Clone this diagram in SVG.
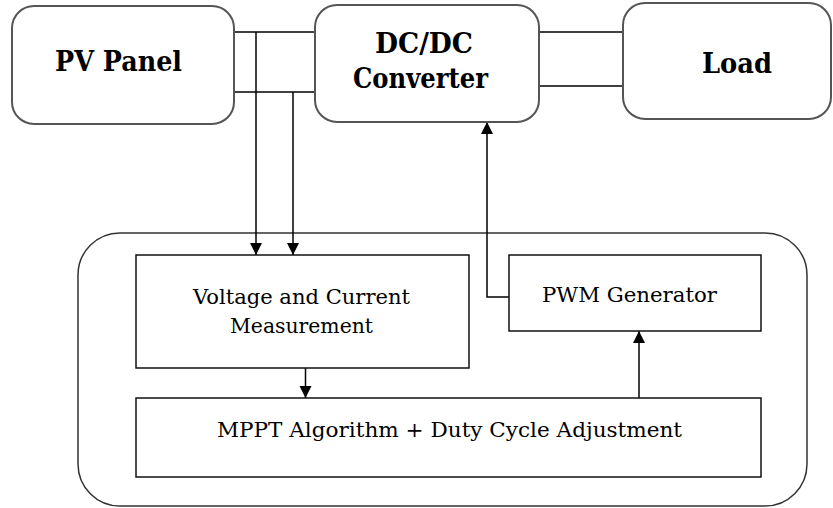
<svg xmlns="http://www.w3.org/2000/svg" width="833" height="508" viewBox="0 0 833 508" font-family="DejaVu Serif, serif">
<style>
.top{fill:#fff;stroke:#555;stroke-width:2}
.box{fill:#fff;stroke:#111;stroke-width:1.5}
.outer{fill:#fff;stroke:#333;stroke-width:1.5}
.ln{fill:none;stroke:#000;stroke-width:1.5}
.big{font-weight:bold;font-size:28px;fill:#000}
.sm{font-size:21px;fill:#000}
</style>
<defs>
<marker id="ah" markerUnits="userSpaceOnUse" markerWidth="12" markerHeight="14" refX="12" refY="6" orient="auto">
<path d="M0,0 L12,6 L0,12 Z" fill="#000"/>
</marker>
</defs>
<rect x="0" y="0" width="833" height="508" fill="#fff"/>
<g id="control-unit">
<rect class="outer" x="78" y="233" width="729" height="273" rx="42" ry="42"/>
</g>
<g id="connectors">
<line class="ln" x1="234" y1="32" x2="315" y2="32"/>
<line class="ln" x1="234" y1="92" x2="315" y2="92"/>
<line class="ln" x1="539" y1="32" x2="623" y2="32"/>
<line class="ln" x1="539" y1="86" x2="623" y2="86"/>
<line class="ln" x1="256" y1="32" x2="256" y2="255" marker-end="url(#ah)"/>
<line class="ln" x1="293" y1="92" x2="293" y2="255" marker-end="url(#ah)"/>
<line class="ln" x1="305.5" y1="368" x2="305.5" y2="398" marker-end="url(#ah)"/>
<line class="ln" x1="639" y1="398" x2="639" y2="331" marker-end="url(#ah)"/>
<path class="ln" d="M509,297 H487 V122" marker-end="url(#ah)"/>
</g>
<g id="pv-panel">
<rect class="top" x="12" y="6" width="222" height="118" rx="22" ry="22"/>
<text class="big" x="55" y="71" textLength="127" lengthAdjust="spacingAndGlyphs">PV Panel</text>
</g>
<g id="dcdc-converter">
<rect class="top" x="315" y="5" width="224" height="117" rx="22" ry="22"/>
<text class="big" x="375" y="53" textLength="98" lengthAdjust="spacingAndGlyphs">DC/DC</text>
<text class="big" x="353" y="88" textLength="135" lengthAdjust="spacingAndGlyphs">Converter</text>
</g>
<g id="load">
<rect class="top" x="623" y="3" width="208" height="116" rx="22" ry="22"/>
<text class="big" x="702" y="73" textLength="70" lengthAdjust="spacingAndGlyphs">Load</text>
</g>
<g id="measurement">
<rect class="box" x="136" y="255" width="333" height="113"/>
<text class="sm" x="193" y="304" textLength="217" lengthAdjust="spacingAndGlyphs">Voltage and Current</text>
<text class="sm" x="230" y="333" textLength="143" lengthAdjust="spacingAndGlyphs">Measurement</text>
</g>
<g id="pwm-generator">
<rect class="box" x="509" y="255" width="252" height="76"/>
<text class="sm" x="542" y="302" textLength="175" lengthAdjust="spacingAndGlyphs">PWM Generator</text>
</g>
<g id="mppt">
<rect class="box" x="136" y="398" width="625" height="79"/>
<text class="sm" x="217" y="437" textLength="465" lengthAdjust="spacingAndGlyphs">MPPT Algorithm + Duty Cycle Adjustment</text>
</g>
</svg>
